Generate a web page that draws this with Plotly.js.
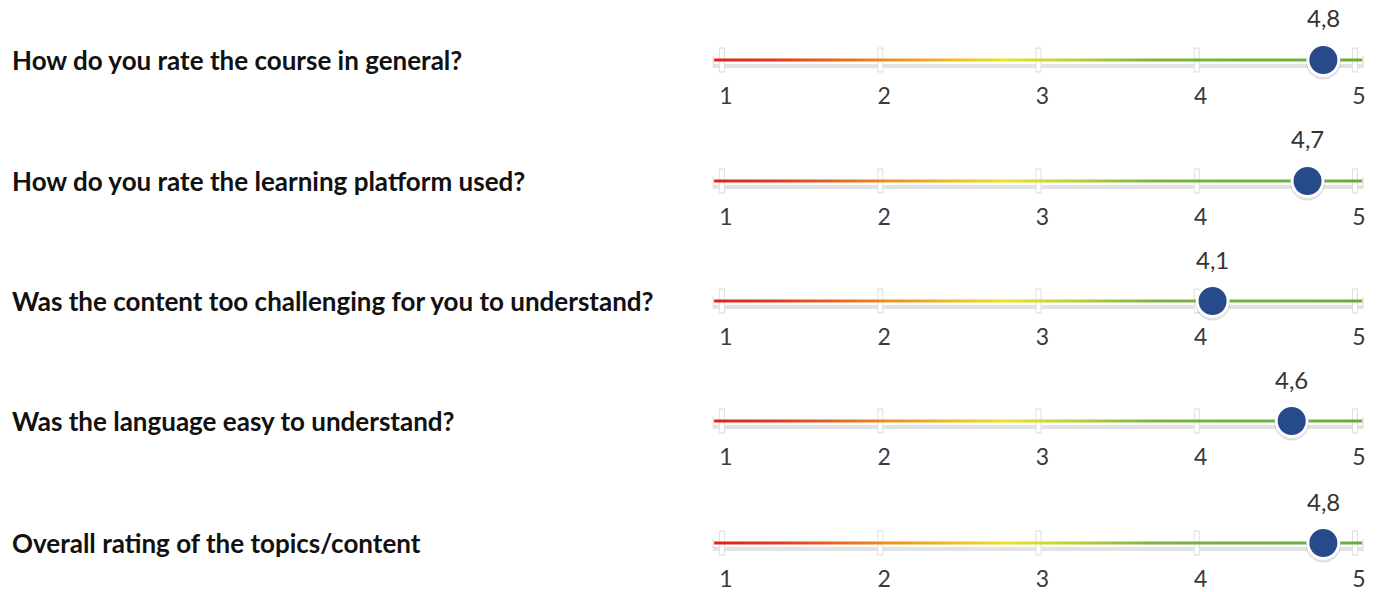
<!DOCTYPE html>
<html>
<head>
<meta charset="utf-8">
<script src="https://cdn.plot.ly/plotly-3.0.1.min.js"></script>
<style>html,body{margin:0;padding:0;background:#fff;}#chart{width:1378px;height:592px;}</style>
</head>
<body>
<div id="chart"></div>
<script>
const questions = [
  "How do you rate the course in general?",
  "How do you rate the learning platform used?",
  "Was the content too challenging for you to understand?",
  "Was the language easy to understand?",
  "Overall rating of the topics/content"
];
const ratings = [4.8, 4.7, 4.1, 4.6, 4.8];
const ratingLabels = ["4,8", "4,7", "4,1", "4,6", "4,8"];
const scaleTicks = [1, 2, 3, 4, 5];
const scaleTickLabels = ["1", "2", "3", "4", "5"];

const W = 1378, H = 592;
const rowCentersPx = [60, 181, 301, 421, 543];
const halfPx = 20;
const lineStart = 0.95, lineEnd = 5.045;

const traces = [];
const layout = {
  width: W, height: H,
  margin: {l: 0, r: 0, t: 0, b: 0},
  paper_bgcolor: '#ffffff', plot_bgcolor: 'rgba(0,0,0,0)',
  showlegend: false,
  annotations: []
};
const fontFam = 'Lato, "Open Sans", sans-serif';

questions.forEach((q, i) => {
  const s = i === 0 ? '' : String(i + 1);
  const xa = 'x' + s, ya = 'y' + s;
  const c = 1 - rowCentersPx[i] / H;
  const h = halfPx / H;
  layout['xaxis' + s] = {
    domain: [0.5125, 0.9948], range: [0.9, 5.1], anchor: ya,
    tickvals: scaleTicks, ticktext: scaleTickLabels,
    showgrid: false, zeroline: false, showline: false, ticks: '',
    tickfont: {family: fontFam, size: 23, color: '#3a3a3a'},
    ticklabelshift: 4, fixedrange: true
  };
  layout['yaxis' + s] = {
    domain: [c - h, c + h], range: [-1, 1], anchor: xa, visible: false, fixedrange: true
  };
  const base = {xaxis: xa, yaxis: ya, hoverinfo: 'skip', showlegend: false, type: 'scatter'};
  // soft shadow under the track
  traces.push(Object.assign({}, base, {
    x: [lineStart - 0.01, lineEnd + 0.01], y: [-0.1, -0.1], mode: 'lines',
    line: {color: '#e3e3e3', width: 12}
  }));
  // white halo
  traces.push(Object.assign({}, base, {
    x: [lineStart, lineEnd], y: [0, 0], mode: 'lines',
    line: {color: '#ffffff', width: 8}
  }));
  // tick crosses
  traces.push(Object.assign({}, base, {
    x: scaleTicks, y: scaleTicks.map(() => 0), mode: 'markers',
    marker: {symbol: 'line-ns', size: 18, line: {color: '#e0e0e0', width: 6}}
  }));
  traces.push(Object.assign({}, base, {
    x: scaleTicks, y: scaleTicks.map(() => 0), mode: 'markers',
    marker: {symbol: 'line-ns', size: 16, line: {color: '#ffffff', width: 4}}
  }));
  // gradient track
  traces.push(Object.assign({}, base, {
    x: [lineStart, lineEnd, lineEnd, lineStart, lineStart],
    y: [-0.08, -0.08, 0.08, 0.08, -0.08],
    mode: 'lines', line: {width: 0}, fill: 'toself',
    fillgradient: {
      type: 'horizontal',
      colorscale: [[0, '#e0221d'], [0.1, '#e33a1e'], [0.26, '#ec8a22'], [0.45, '#ece324'],
                   [0.56, '#b6d03a'], [0.68, '#7cb342'], [1, '#6aad3c']]
    }
  }));
  // marker shadow
  traces.push(Object.assign({}, base, {
    x: [ratings[i]], y: [-0.1], mode: 'markers',
    marker: {size: 35, color: 'rgba(0,0,0,0.12)'}
  }));
  // marker
  traces.push(Object.assign({}, base, {
    x: [ratings[i]], y: [0], mode: 'markers',
    marker: {size: 31, color: '#264a8a', line: {color: '#ffffff', width: 3}}
  }));
  layout.annotations.push({
    xref: xa, yref: ya, x: ratings[i], y: 0, yshift: 42,
    text: ratingLabels[i], showarrow: false,
    font: {family: fontFam, size: 24, color: '#333333'}
  });
  layout.annotations.push({
    xref: 'paper', yref: ya, x: 0.007, y: 0, xanchor: 'left',
    text: '<b>' + q + '</b>', showarrow: false,
    font: {family: fontFam, size: 26, color: '#111111'}
  });
});

Plotly.newPlot('chart', traces, layout, {displayModeBar: false, staticPlot: true});
</script>
</body>
</html>
